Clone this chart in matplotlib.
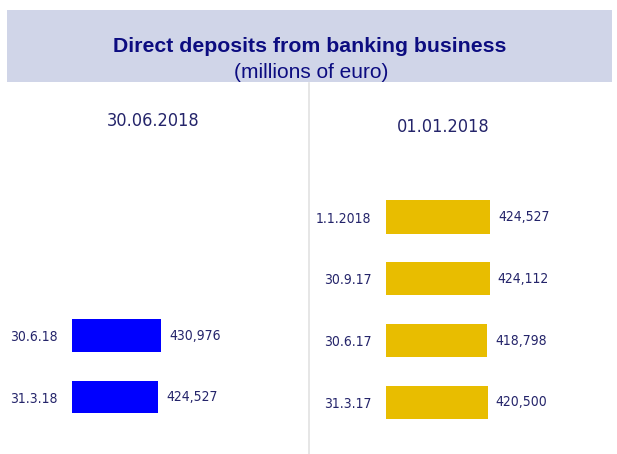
import matplotlib
matplotlib.use("Agg")
import matplotlib.pyplot as plt
from matplotlib.patches import Rectangle
from matplotlib.lines import Line2D

# ---- data ----
left_title = "30.06.2018"
left_cats = ["31.3.18", "30.6.18"]
left_vals = [424527, 430976]

right_title = "01.01.2018"
right_cats = ["31.3.17", "30.6.17", "30.9.17", "1.1.2018"]
right_vals = [420500, 418798, 424112, 424527]

title = "Direct deposits from banking business"
subtitle = "(millions of euro)"

W, H = 617, 454
fig = plt.figure(figsize=(W / 100, H / 100), dpi=100)
fig.patch.set_facecolor("white")

NARROW = dict(family="DejaVu Sans", stretch="condensed")
LAB_COLOR = "#24246a"


def rect(x0, ytop, x1, ybot):
    return [x0 / W, 1 - ybot / H, (x1 - x0) / W, (ybot - ytop) / H]


# title band
fig.add_artist(Rectangle((7 / W, 1 - 82 / H), (612 - 7) / W, (82 - 10) / H,
                         transform=fig.transFigure, facecolor="#d0d5e8",
                         edgecolor="none", zorder=0))
fig.text(310 / W, 1 - 47 / H, title, ha="center", va="center", fontsize=15.3,
         fontweight="bold", color="#0c0c80", family=["Liberation Sans", "DejaVu Sans"])
fig.text(311 / W, 1 - 73 / H, subtitle, ha="center", va="center", fontsize=15,
         color="#0c0c80", family=["Liberation Sans", "DejaVu Sans"])

# divider
fig.add_artist(Line2D([309 / W, 309 / W], [0, 1 - 83 / H], transform=fig.transFigure,
                      color="#e2e2e2", lw=1.2))

base = 230000


def panel(r, cats, vals, color, xmax, ylim):
    ax = fig.add_axes(r)
    ax.set_facecolor("none")
    ys = list(range(len(cats)))
    ax.barh(ys, vals, height=0.535, color=color)
    ax.set_xlim(base, xmax)
    ax.set_ylim(*ylim)
    ax.set_yticks(ys)
    ax.set_yticklabels(cats, fontsize=10, color=LAB_COLOR, **NARROW)
    ax.tick_params(axis="y", length=0, pad=10.5)
    ax.set_xticks([])
    for s in ax.spines.values():
        s.set_visible(False)
    for y, v in zip(ys, vals):
        ax.annotate(f"{v:,}", xy=(v, y), xytext=(8, 0), textcoords="offset pixels",
                    ha="left", va="center", fontsize=10, color=LAB_COLOR,
                    **NARROW)
    return ax


panel(rect(72, 100, 300, 440), left_cats, left_vals, "#0000ff",
      744870, (-0.699, 4.829))
panel(rect(386, 100, 600, 440), right_cats, right_vals, "#e8bd00",
      630280, (-0.607, 4.893))

fig.text(153 / W, 1 - 121 / H, left_title, ha="center", va="center",
         fontsize=13, color=LAB_COLOR, **NARROW)
fig.text(443 / W, 1 - 127 / H, right_title, ha="center", va="center",
         fontsize=13, color=LAB_COLOR, **NARROW)

fig.savefig("out.png", dpi=100, facecolor="white")
